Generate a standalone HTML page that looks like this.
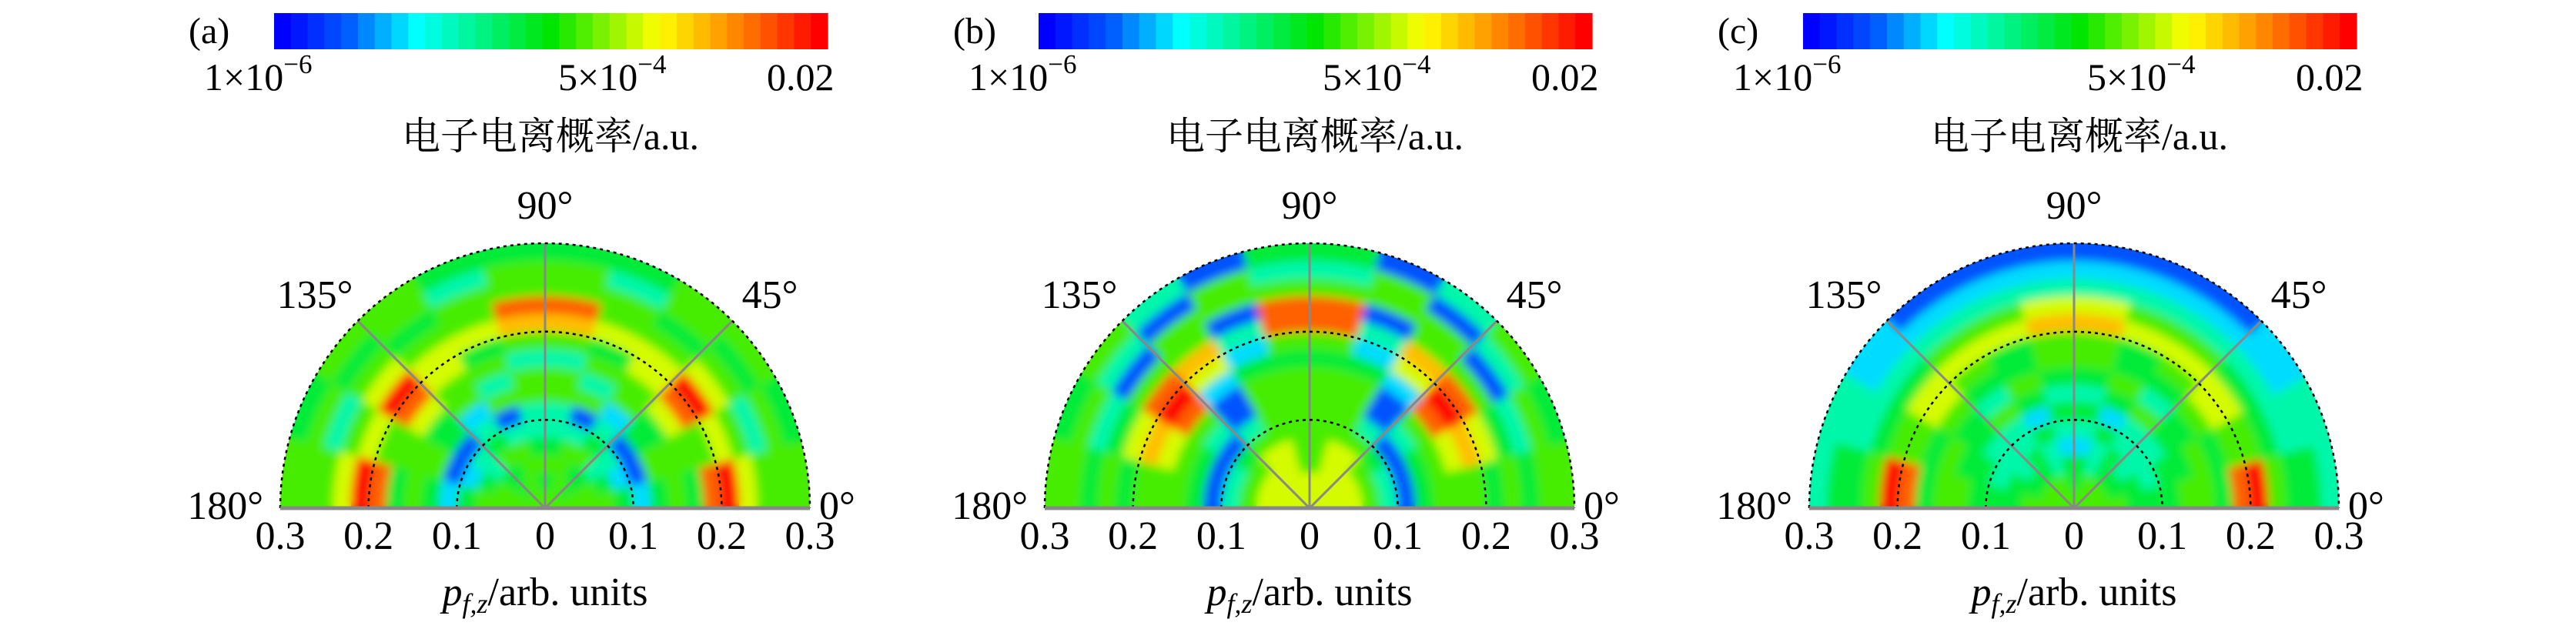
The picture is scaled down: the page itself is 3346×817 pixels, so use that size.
<!DOCTYPE html>
<html><head><meta charset="utf-8">
<style>
html,body{margin:0;padding:0;background:#fff;}
svg{display:block;}
svg text{font-family:"Liberation Serif","Noto Serif CJK SC",serif;fill:#000;}
</style></head>
<body>
<svg id="fig" width="3346" height="817" viewBox="0 0 3346 817" xmlns="http://www.w3.org/2000/svg" font-family="'Liberation Serif', 'Noto Serif CJK SC', serif">
<defs>
<filter id="blur" x="-5%" y="-5%" width="110%" height="110%"><feGaussianBlur stdDeviation="6"/></filter>
</defs>
</svg>
<script>
// ---- data ----
const panelLetters = ["(a)", "(b)", "(c)"];
const colorbarTicks = ["1×10", "5×10", "0.02"];
const colorbarExps = ["−6", "−4", ""];
const axisTicks = ["0.3", "0.2", "0.1", "0", "0.1", "0.2", "0.3"];
const angleLabels = ["0°", "45°", "90°", "135°", "180°"];
const ringRadii = [0.1, 0.2, 0.3];
// heat values 0..9 ; rows = radial rings (0..0.3 step 0.02), cols = 15° sectors from 0° to 180°
const heatA = [
[5,5,5,5,5,5,5,5,5,5,5,5],
[5,5,4,5,5,4,4,5,5,4,5,5],
[5,5,4,4,5,5,5,5,4,4,5,5],
[5,4,3,5,5,4,4,5,5,3,4,5],
[4,2,3,4,3,3,3,3,4,3,2,4],
[2,1,1,3,1,3,3,1,3,1,1,2],
[4,5,4,2,5,5,5,5,2,4,5,4],
[5,5,4,5,3,5,5,3,5,4,5,5],
[4,5,6,5,5,3,3,5,5,6,5,4],
[8,5,8,6,4,5,5,4,6,8,5,8],
[9,6,9,6,6,7,7,6,6,9,6,9],
[6,5,6,5,5,8,8,5,5,6,5,6],
[5,3,5,4,5,5,5,5,4,5,3,5],
[5,5,4,5,3,5,5,3,5,4,5,5],
[5,4,5,5,4,4,4,4,5,5,4,5]];
const heatB = [
[6,6,6,6,6,6,6,6,6,6,6,6],
[6,6,6,6,6,6,6,6,6,6,6,6],
[6,6,6,6,6,5,5,6,6,6,6,6],
[5,5,5,6,6,5,5,6,6,5,5,5],
[3,3,4,5,5,5,5,5,5,4,3,3],
[1,1,1,3,5,5,5,5,3,1,1,1],
[4,4,3,1,5,5,5,5,1,3,4,4],
[5,5,5,1,5,5,5,5,1,5,5,5],
[5,6,8,2,4,4,4,4,2,8,6,5],
[5,7,9,6,2,5,5,2,6,9,7,5],
[4,6,8,7,3,8,8,3,7,8,6,4],
[5,4,5,5,1,8,8,1,5,5,4,5],
[4,3,1,5,5,5,5,5,5,1,3,4],
[5,5,3,1,5,3,3,5,1,3,5,5],
[5,4,5,3,1,4,4,1,3,5,4,5]];
const heatC = [
[5,5,5,5,5,5,5,5,5,5,5,5],
[5,5,5,5,5,4,4,5,5,5,5,5],
[5,4,4,4,3,4,4,3,4,4,4,5],
[4,4,3,4,3,2,2,3,4,3,4,4],
[4,3,3,3,4,3,3,4,3,3,3,4],
[4,4,3,3,2,4,4,2,3,3,4,4],
[5,4,4,5,4,3,3,4,5,4,4,5],
[5,5,4,3,5,4,4,5,3,4,5,5],
[4,4,5,4,4,5,5,4,4,5,4,4],
[8,5,6,5,4,5,5,4,5,6,5,8],
[9,5,6,6,6,7,7,6,6,6,5,9],
[5,4,4,5,5,6,6,5,5,4,4,5],
[4,3,3,3,3,3,3,3,3,3,3,4],
[4,3,2,2,2,2,2,2,2,2,3,4],
[3,3,2,1,1,1,1,1,1,2,3,3]];
const heats = [heatA, heatB, heatC];

// ---- layout ----
const NS = "http://www.w3.org/2000/svg";
const svg = document.getElementById("fig");
const panelDx = [0, 993, 1986];
const CX0 = 708, CY = 660, R = 344, RMAX = 0.3;
const CB_X0 = 356, CB_W = 719, CB_Y = 17, CB_H = 47, NBANDS = 33;
const FONT = "'Liberation Serif', 'Noto Serif CJK SC', serif";

const stops = [[0,[0,0,255]],[0.12,[0,90,255]],[0.25,[0,255,255]],[0.5,[0,230,0]],[0.7,[255,255,0]],[0.85,[255,130,0]],[1,[255,0,0]]];
function cmap(t){
  t=Math.max(0,Math.min(1,t));
  for(let i=1;i<stops.length;i++){
    if(t<=stops[i][0]){
      const a=stops[i-1],b=stops[i],f=(t-a[0])/(b[0]-a[0]);
      const c=a[1].map((v,k)=>Math.round(v+(b[1][k]-v)*f));
      return `rgb(${c[0]},${c[1]},${c[2]})`;
    }
  }
  return "rgb(255,0,0)";
}
function mk(tag, attrs, parent){
  const e=document.createElementNS(NS,tag);
  for(const k in attrs) e.setAttribute(k,attrs[k]);
  if(tag==="text") e.setAttribute("font-family", FONT);
  (parent||svg).appendChild(e);
  return e;
}
function rScale(v){ return v/RMAX*R; }
function polar(cx, r, deg){ const a=deg*Math.PI/180; return [cx+r*Math.cos(a), CY-r*Math.sin(a)]; }

panelDx.forEach((dx, p) => {
  const g = mk("g", {});
  
  
  const cx = CX0 + dx;

  const lt = mk("text", {x: 245+dx, y: 56, "font-size": 48}, g);
  lt.textContent = panelLetters[p];
  
  

  const cb = mk("g", {}, g);
  
  
  const bw = CB_W / NBANDS;
  for (let i=0;i<NBANDS;i++){
    const r = mk("rect", {x: CB_X0+dx+i*bw, y: CB_Y, width: bw+0.6, height: CB_H, fill: cmap(i/(NBANDS-1))}, cb);
    
    
  }
  const tickX = [265, 725, 996];
  colorbarTicks.forEach((t,i)=>{
    const tx = mk("text", {x: tickX[i]+dx, y: 117, "font-size": 50}, g);
    tx.textContent = t;
    if (colorbarExps[i]) {
      const s = document.createElementNS(NS,"tspan");
      s.setAttribute("dy","-22"); s.setAttribute("font-size","35");
      s.textContent = colorbarExps[i];
      tx.appendChild(s);
    }
    
    
  });
  const cl = mk("text", {x: 715+dx, y: 194, "font-size": 50, "text-anchor": "middle"}, g);
  cl.textContent = "电子电离概率/a.u.";
  
  

  const clipId = "clip"+p;
  const cp = mk("clipPath", {id: clipId}, g);
  mk("path", {d: `M${cx-R},${CY} A${R},${R} 0 0 1 ${cx+R},${CY} Z`}, cp);
  const hm = mk("g", {"clip-path": `url(#${clipId})`}, g);
  
  
  const data = heats[p];
  const nR = data.length, nA = data[0].length;
  const dr = RMAX / nR, da = 180 / nA;
  function drawCells(parent){
    for (let i=0;i<nR;i++){
      for (let j=0;j<nA;j++){
        const r0 = rScale(i*dr), r1 = rScale((i+1)*dr) + 1;
        const a0 = j*da - 0.4, a1 = (j+1)*da + 0.4;
        const p1 = polar(cx,r0,a0), p2 = polar(cx,r1,a0), p3 = polar(cx,r1,a1), p4 = polar(cx,r0,a1);
        const d = `M${p1} L${p2} A${r1},${r1} 0 0 0 ${p3} L${p4} A${r0},${r0} 0 0 1 ${p1} Z`;
        const c = mk("path", {d: d, fill: cmap(data[i][j]/9)}, parent);
        
        
      }
    }
  }
  const base = mk("g", {}, hm); drawCells(base);
  const blurred = mk("g", {filter: "url(#blur)"}, hm); drawCells(blurred);

  [45, 90, 135].forEach(a=>{
    const e = polar(cx, R, a);
    const l = mk("line", {x1: cx, y1: CY, x2: e[0], y2: e[1], stroke: "#888", "stroke-width": 3}, g);
    
    
  });
  ringRadii.forEach(v=>{
    const r = rScale(v);
    const c = mk("path", {d: `M${cx-r},${CY} A${r},${r} 0 0 1 ${cx+r},${CY}`, fill: "none", stroke: "#000", "stroke-width": 2.5, "stroke-dasharray": "4 5"}, g);
    
    
  });
  const bl = mk("line", {x1: cx-R, y1: CY, x2: cx+R, y2: CY, stroke: "#888", "stroke-width": 5}, g);
  
  

  const angPos = [[cx+R+12, 674, "start"], [cx+292, 400, "middle"], [cx, 284, "middle"], [cx-299, 400, "middle"], [cx-R-22, 674, "end"]];
  angleLabels.forEach((t,i)=>{
    const a = mk("text", {x: angPos[i][0], y: angPos[i][1], "font-size": 52, "text-anchor": angPos[i][2]}, g);
    a.textContent = t;
    
    
  });
  axisTicks.forEach((t,i)=>{
    const x = cx - R + i*(R/3);
    const a = mk("text", {x: x, y: 713, "font-size": 52, "text-anchor": "middle"}, g);
    a.textContent = t;
    
    
  });
  const xt = mk("text", {x: cx, y: 786, "font-size": 52, "text-anchor": "middle"}, g);
  xt.innerHTML = '<tspan font-style="italic">p</tspan><tspan font-size="36" dy="10" font-style="italic">f,z</tspan><tspan dy="-10">/arb. units</tspan>';
  
  
});
</script>
</body></html>
